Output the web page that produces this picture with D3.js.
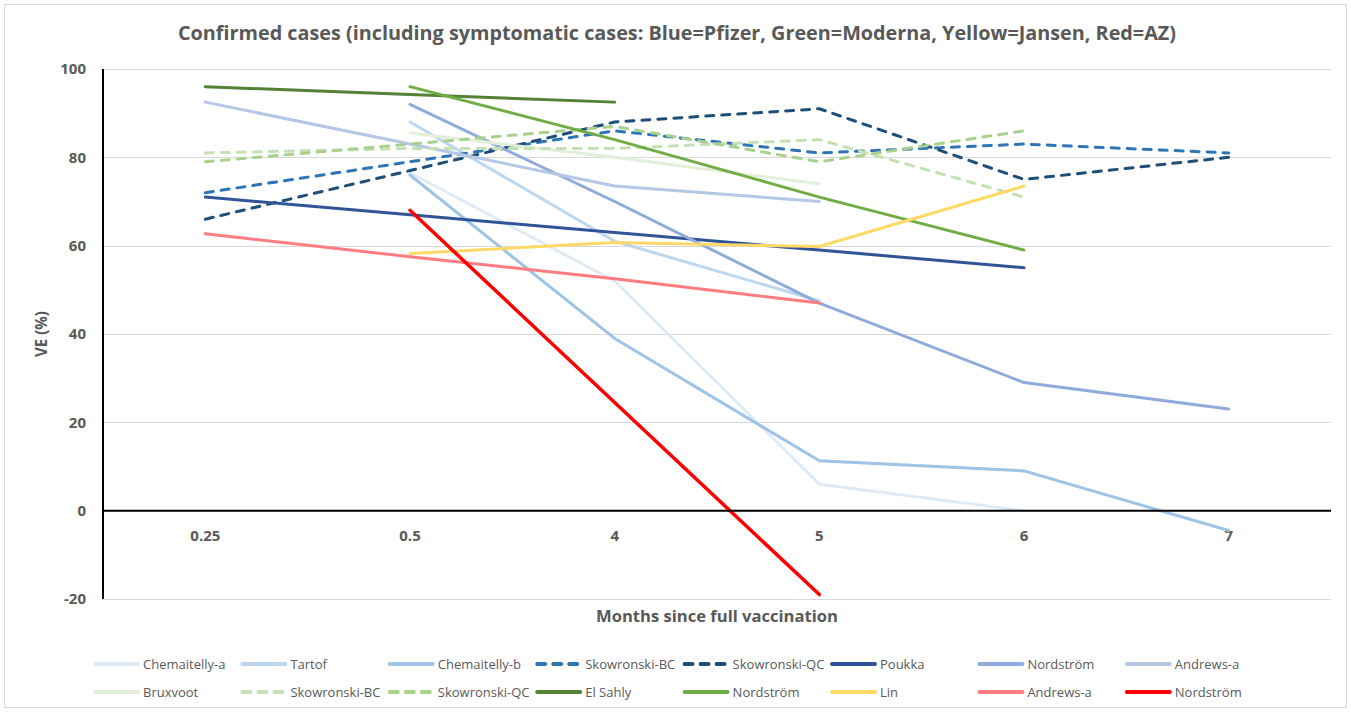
<!DOCTYPE html>
<html>
<head>
<meta charset="utf-8">
<script src="https://cdn.jsdelivr.net/npm/d3@7"></script>
<style>
    body { margin: 0; background: #fff; }
    text { font-family: "Open Sans", sans-serif; fill: #595959; }
</style>
</head>
<body>
<svg id="chart" width="1351" height="713"></svg>
<script>
// months since full vaccination (category axis)
var categories = ['0.25', '0.5', '4', '5', '6', '7'];
var yTicks = [-20, 0, 20, 40, 60, 80, 100];

// VE (%) per category, null = no estimate
var chemaitellyA = [null, 76.5, 52, 6, 0, null];
var tartof = [null, 88, 61, 47.5, null, null];
var chemaitellyB = [null, 76, 39, 11.3, 9, -4.5];
var skowronskiBcPfizer = [72, 79, 86, 81, 83, 81];
var skowronskiQcPfizer = [66, 77, 88, 91, 75, 80];
var poukka = [71, 67, 63, 59, 55, null];
var nordstromPfizer = [null, 92, 70, 47, 29, 23];
var andrewsPfizer = [92.5, 83, 73.5, 70, null, null];
var bruxvoot = [null, 85.5, 80, 74, null, null];
var skowronskiBcModerna = [81, 82, 82, 84, 71, null];
var skowronskiQcModerna = [79, 83, 87, 79, 86, null];
var elSahly = [96, 94.2, 92.5, null, null, null];
var nordstromModerna = [null, 96, 84, 71, 59, null];
var lin = [null, 58.2, 60.7, 59.8, 73.5, null];
var andrewsAz = [62.7, 57.5, 52.5, 47, null, null];
var nordstromAz = [null, 68, 24.5, -19, null, null];

var seriesNames = ['Chemaitelly-a', 'Tartof', 'Chemaitelly-b', 'Skowronski-BC', 'Skowronski-QC', 'Poukka',
    'Nordström', 'Andrews-a', 'Bruxvoot', 'Skowronski-BC', 'Skowronski-QC', 'El Sahly',
    'Nordström', 'Lin', 'Andrews-a', 'Nordström'];
var seriesValues = [chemaitellyA, tartof, chemaitellyB, skowronskiBcPfizer, skowronskiQcPfizer, poukka,
    nordstromPfizer, andrewsPfizer, bruxvoot, skowronskiBcModerna, skowronskiQcModerna, elSahly,
    nordstromModerna, lin, andrewsAz, nordstromAz];

// styles, kept apart from the data
var seriesColors = ['#DEEBF7', '#BDD7EE', '#9DC3E6', '#2E75B6', '#1F4E79', '#2F5597',
    '#8FAADC', '#B4C7E7', '#E2F0D9', '#C5E0B4', '#A9D18E', '#548235',
    '#70AD47', '#FFD966', '#FF7C80', '#FF0000'];
var seriesDashed = [false, false, false, true, true, false, false, false,
    false, true, true, false, false, false, false, false];

(function() {
    'use strict';

    var svg = d3.select('#chart');
    var plot = { left: 103, right: 1331, top: 69, bottom: 599 };

    var x = d3.scaleBand()
        .domain(categories)
        .range([plot.left, plot.right])
        .padding(0);

    var y = d3.scaleLinear()
        .domain([-20, 100])
        .range([plot.bottom, plot.top]);

    var cx = function(c) { return x(c) + x.bandwidth() / 2; };

    /**
     * Shrink or grow a text so it spans the wanted width
     */
    function fitWidth(sel, target) {
        var w = sel.node().getComputedTextLength();
        var fs = parseFloat(sel.style('font-size'));
        sel.style('font-size', (fs * target / w) + 'px');
    }

    // chart frame
    svg.append('rect')
        .attr('x', 4.5).attr('y', 4.5)
        .attr('width', 1342).attr('height', 703)
        .style('fill', '#fff')
        .style('stroke', '#D9D9D9');

    // title
    var title = svg.append('text')
        .attr('x', 677).attr('y', 33)
        .attr('dy', '0.35em')
        .attr('text-anchor', 'middle')
        .style('font-size', '18px')
        .style('font-weight', 'bold')
        .text('Confirmed cases (including symptomatic cases: Blue=Pfizer, Green=Moderna, Yellow=Jansen, Red=AZ)');
    fitWidth(title, 999);

    // gridlines
    svg.append('g')
        .selectAll('line')
        .data(yTicks.filter(function(t) { return t !== 0; }))
        .enter().append('line')
        .attr('x1', plot.left).attr('x2', plot.right)
        .attr('y1', function(t) { return Math.round(y(t)) + 0.5; })
        .attr('y2', function(t) { return Math.round(y(t)) + 0.5; })
        .style('stroke', '#D9D9D9')
        .style('stroke-width', 1);

    // y tick labels
    svg.append('g')
        .selectAll('text')
        .data(yTicks)
        .enter().append('text')
        .attr('x', 86)
        .attr('y', function(t) { return y(t); })
        .attr('dy', '0.35em')
        .attr('text-anchor', 'end')
        .style('font-size', '15px')
        .style('font-weight', 'bold')
        .text(function(t) { return t; });

    // x tick labels
    svg.append('g')
        .selectAll('text')
        .data(categories)
        .enter().append('text')
        .attr('x', cx)
        .attr('y', 536)
        .attr('dy', '0.35em')
        .attr('text-anchor', 'middle')
        .style('font-size', '15px')
        .style('font-weight', 'bold')
        .text(function(c) { return c; });

    // axis titles
    var xTitle = svg.append('text')
        .attr('x', (plot.left + plot.right) / 2).attr('y', 616)
        .attr('dy', '0.35em')
        .attr('text-anchor', 'middle')
        .style('font-size', '16px')
        .style('font-weight', 'bold')
        .text('Months since full vaccination');
    fitWidth(xTitle, 242);

    var yTitle = svg.append('text')
        .attr('transform', 'translate(42,' + ((plot.top + plot.bottom) / 2) + ') rotate(-90)')
        .attr('dy', '0.35em')
        .attr('text-anchor', 'middle')
        .style('font-size', '16px')
        .style('font-weight', 'bold')
        .text('VE (%)');
    fitWidth(yTitle, 46);

    // series lines
    var line = d3.line()
        .defined(function(d) { return d.v !== null; })
        .x(function(d) { return cx(d.c); })
        .y(function(d) { return y(d.v); });

    svg.append('g')
        .selectAll('path')
        .data(seriesValues)
        .enter().append('path')
        .attr('d', function(vals) {
            return line(vals.map(function(v, i) { return { c: categories[i], v: v }; }));
        })
        .style('fill', 'none')
        .style('stroke', function(d, i) { return seriesColors[i]; })
        .style('stroke-width', function(d, i) { return i === 15 ? 3.5 : 3; })
        .style('stroke-linecap', 'round')
        .style('stroke-linejoin', 'round')
        .style('stroke-dasharray', function(d, i) { return seriesDashed[i] ? '8,8' : null; });

    // axis lines on top
    svg.append('line')
        .attr('x1', plot.left).attr('x2', plot.right)
        .attr('y1', y(0)).attr('y2', y(0))
        .style('stroke', '#000')
        .style('stroke-width', 2);

    svg.append('line')
        .attr('x1', plot.left).attr('x2', plot.left)
        .attr('y1', plot.top).attr('y2', plot.bottom)
        .style('stroke', '#000')
        .style('stroke-width', 2);

    // legend, two rows of eight
    var legend = svg.append('g')
        .selectAll('g')
        .data(seriesNames)
        .enter().append('g')
        .attr('transform', function(d, i) {
            return 'translate(' + (93 + (i % 8) * 147.4) + ',' + (664 + Math.floor(i / 8) * 28) + ')';
        });

    legend.append('line')
        .attr('x1', 2).attr('x2', 45)
        .style('stroke', function(d, i) { return seriesColors[i]; })
        .style('stroke-width', 4)
        .style('stroke-linecap', 'round')
        .style('stroke-dasharray', function(d, i) { return seriesDashed[i] ? '8,8' : null; });

    legend.append('text')
        .attr('x', 50)
        .attr('dy', '0.35em')
        .style('font-size', '13px')
        .text(function(d) { return d; });
})();
</script>
</body>
</html>
